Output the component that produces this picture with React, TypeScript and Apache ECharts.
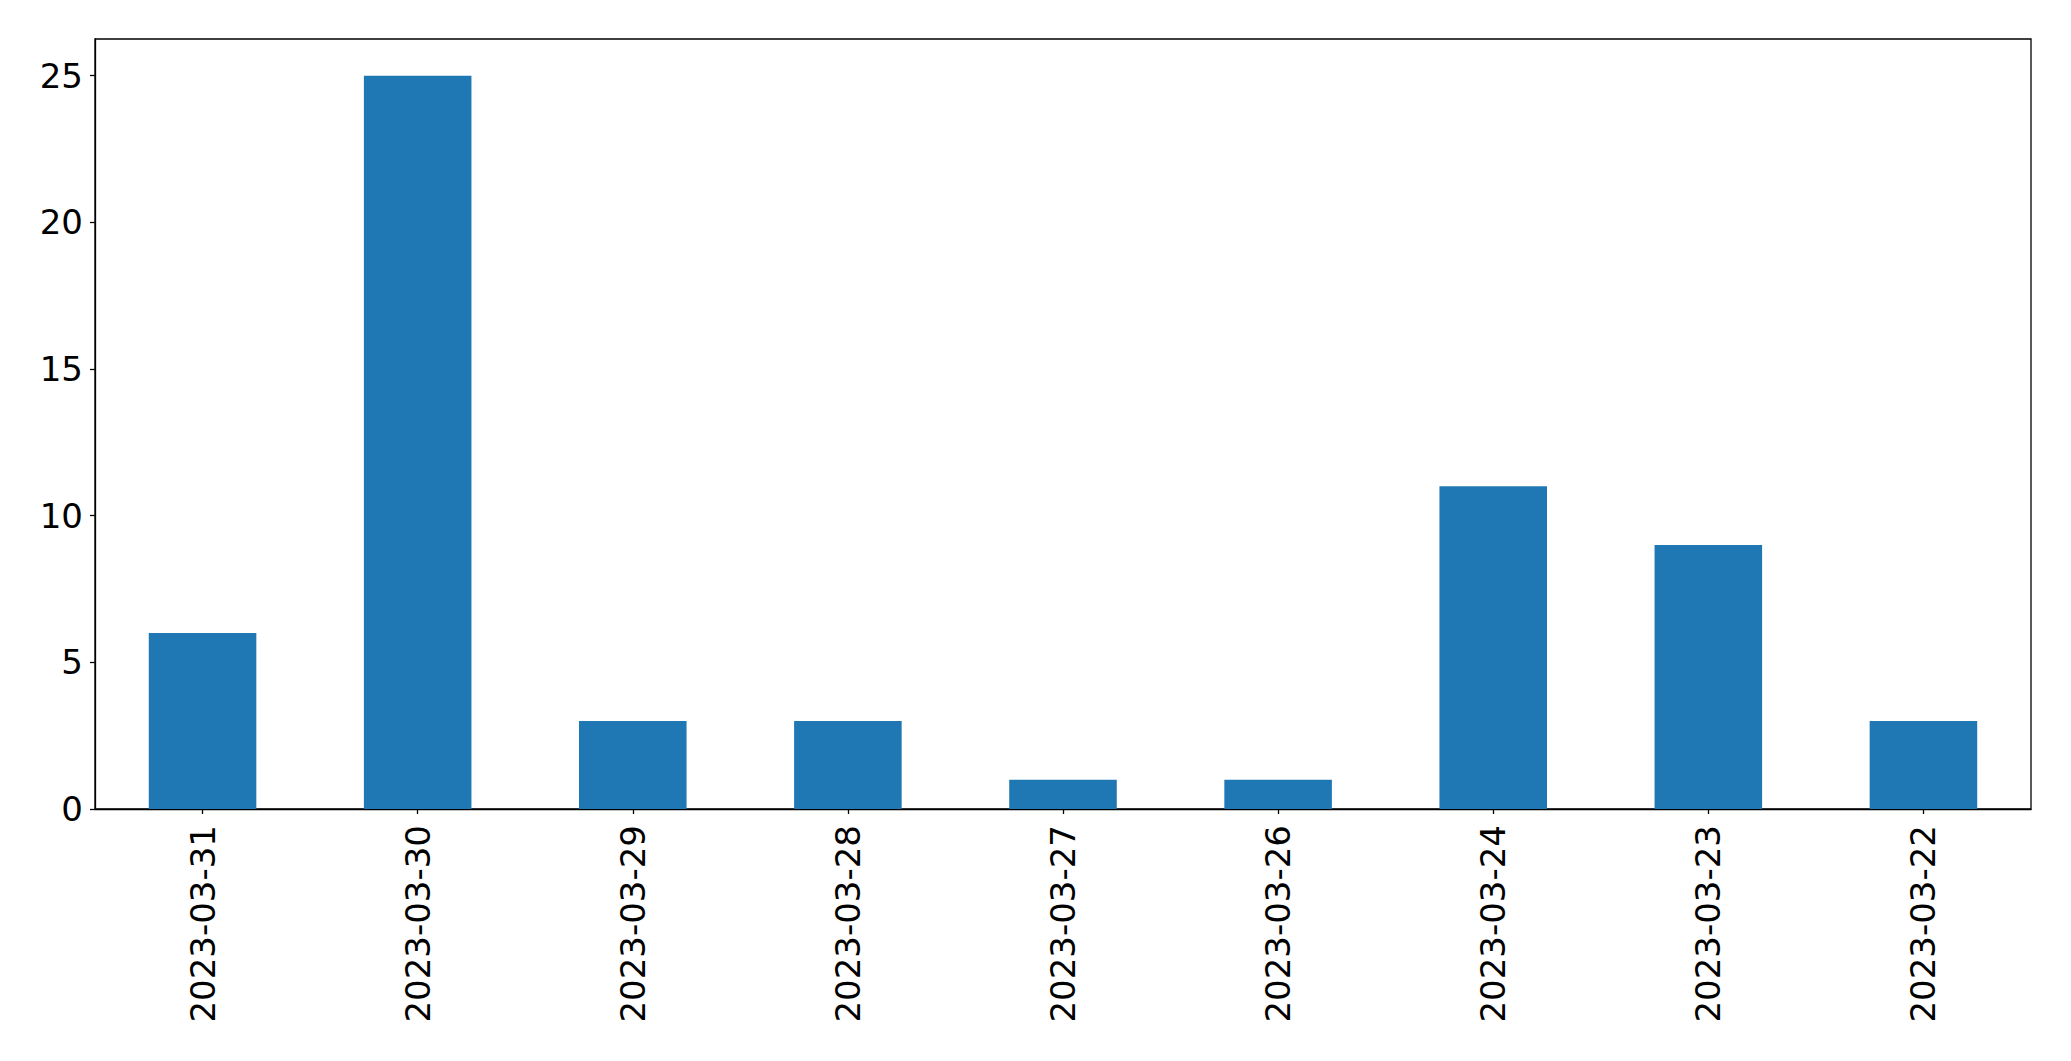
import React, { useEffect, useRef } from "react";
import * as echarts from "echarts";

const categories = [
  "2023-03-31",
  "2023-03-30",
  "2023-03-29",
  "2023-03-28",
  "2023-03-27",
  "2023-03-26",
  "2023-03-24",
  "2023-03-23",
  "2023-03-22",
];
const counts = [6, 25, 3, 3, 1, 1, 11, 9, 3];
const yMax = 26.25;
const yInterval = 5;

export default function App() {
  const ref = useRef<HTMLDivElement>(null);
  useEffect(() => {
    if (!ref.current) return;
    const chart = echarts.init(ref.current, null, { renderer: "svg" });
    const font = "DejaVu Sans";
    chart.setOption({
      animation: false,
      backgroundColor: "#ffffff",
      grid: {
        left: 95,
        top: 39,
        width: 1936,
        height: 770,
        show: true,
        borderColor: "#000000",
        borderWidth: 1.3,
        backgroundColor: "transparent",
      },
      xAxis: {
        type: "category",
        data: categories,
        axisLine: { show: true, lineStyle: { color: "#000", width: 1.3 } },
        axisTick: { show: true, alignWithLabel: true, length: 5, lineStyle: { color: "#000", width: 1.3 } },
        axisLabel: {
          rotate: 90,
          fontSize: 34,
          fontFamily: font,
          color: "#000",
          margin: 16,
          interval: 0,
        },
        splitLine: { show: false },
      },
      yAxis: {
        type: "value",
        min: 0,
        max: yMax,
        interval: yInterval,
        axisLine: { show: true, lineStyle: { color: "#000", width: 1.3 } },
        axisTick: { show: true, length: 5, lineStyle: { color: "#000", width: 1.3 } },
        axisLabel: {
          fontSize: 34,
          fontFamily: font,
          color: "#000",
          margin: 12,
          showMaxLabel: false,
        },
        splitLine: { show: false },
      },
      series: [
        {
          type: "bar",
          data: counts,
          barWidth: "50%",
          itemStyle: { color: "#1f77b4" },
        },
      ],
    });
    return () => chart.dispose();
  }, []);
  return (
    <div
      ref={ref}
      style={{ position: "fixed", left: 0, top: 0, width: 2071, height: 1061 }}
    />
  );
}
